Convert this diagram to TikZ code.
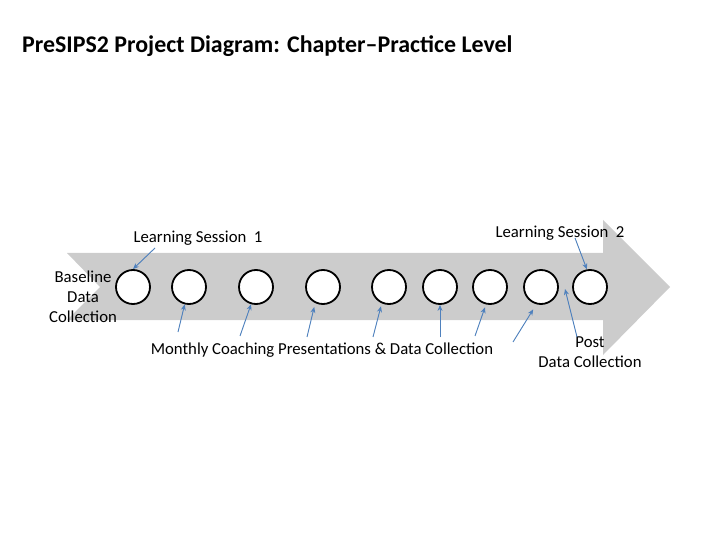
\documentclass[tikz,border=0pt]{standalone}
\usepackage{fontspec}
\setmainfont{Carlito}
\usepackage{tikz}
\usetikzlibrary{arrows.meta}

\begin{document}
\begin{tikzpicture}[x=1bp,y=-1bp,>={Stealth[length=6bp,width=5bp]}]
  \tikzstyle{band}    = [fill=black!20]
  \tikzstyle{stage}   = [circle,minimum size=34bp,inner sep=0pt,draw=black,line width=1.8bp,fill=white]
  \tikzstyle{caption} = [font=\fontsize{16.8}{20}\selectfont,align=center,inner sep=0pt]
  \tikzstyle{heading} = [font=\fontsize{24}{28}\selectfont\bfseries,inner sep=0pt]
  \tikzstyle{pointer} = [->,draw={rgb,255:red,79;green,129;blue,189},fill={rgb,255:red,79;green,129;blue,189},line width=0.9bp]
  \useasboundingbox (0,0) rectangle (720,540);
  % title
  \path (22,46) node[heading,anchor=west](title) {PreSIPS2 Project Diagram: Chapter–Practice Level};
  % big arrow
  \fill[band] (67,253) -- (603,253) -- (603,220) -- (670,287) -- (603,355)
              -- (603,320) -- (67,320) -- (100,287) -- cycle;
  % stages along the arrow
  \path (133,287) node[stage](c0) {};
  \path (189,287) node[stage](c1) {};
  \path (256,287) node[stage](c2) {};
  \path (323,287) node[stage](c3) {};
  \path (389,287) node[stage](c4) {};
  \path (440,287) node[stage](c5) {};
  \path (490,287) node[stage](c6) {};
  \path (541,287) node[stage](c7) {};
  \path (590,287) node[stage](c8) {};
  % labels
  \path (83,297)  node[caption](base)    {Baseline\\Data\\Collection};
  \path (198,238) node[caption](ls1)     {Learning Session\ \ 1};
  \path (560,233) node[caption](ls2)     {Learning Session\ \ 2};
  \path (322,350) node[caption](monthly) {Monthly Coaching Presentations \& Data Collection};
  \path (590,352) node[caption](post)    {Post\\Data Collection};
  % arrow tails
  \coordinate (a0) at (155,248);
  \coordinate (a8) at (575,238);
  \coordinate (t1) at (178,332);
  \coordinate (t2) at (240,336);
  \coordinate (t3) at (307,337);
  \coordinate (t4) at (373,337);
  \coordinate (t5) at (440,337);
  \coordinate (t6) at (475,336);
  \coordinate (t7) at (513,342);
  \coordinate (tp) at (577,337);
  \coordinate (hp) at (565,289);
  % pointers
  \draw[pointer] (a0) -- (c0.north);
  \draw[pointer] (a8) -- (c8.100);
  \draw[pointer] (t1) -- (c1.-104);
  \draw[pointer] (t2) -- (c2.-106);
  \draw[pointer,shorten >=4bp] (t3) -- (c3.-116);
  \draw[pointer,shorten >=3bp] (t4) -- (c4.-114);
  \draw[pointer] (t5) -- (c5.-90);
  \draw[pointer,shorten >=3bp] (t6) -- (c6.-103);
  \draw[pointer,shorten >=6bp] (t7) -- (c7.-105);
  \draw[pointer] (tp) -- (hp);
\end{tikzpicture}
\end{document}
